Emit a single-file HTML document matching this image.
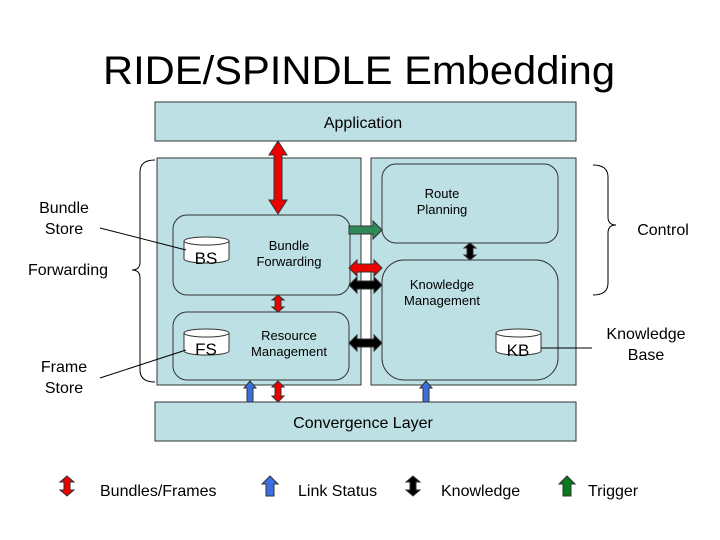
<!DOCTYPE html>
<html><head><style>
body{margin:0;background:#fff;}
svg{display:block;font-family:"Liberation Sans",sans-serif;}
</style></head><body>
<svg width="720" height="540" viewBox="0 0 720 540" xmlns="http://www.w3.org/2000/svg">
<text x="359" y="84" font-size="40" text-anchor="middle" fill="#000" textLength="512" lengthAdjust="spacingAndGlyphs">RIDE/SPINDLE Embedding</text>
<g stroke="#333" stroke-width="1" fill="#bde0e4">
<rect x="155" y="102" width="421" height="39"/>
<rect x="157" y="158" width="204" height="227"/>
<rect x="371" y="158" width="205" height="227"/>
<rect x="155" y="402" width="421" height="39"/>
<rect x="173" y="215" width="177" height="80" rx="14"/>
<rect x="173" y="312" width="176" height="68" rx="14"/>
<rect x="382" y="164" width="176" height="79" rx="14"/>
<rect x="382" y="260" width="176" height="120" rx="22"/>
</g>
<g font-size="16" text-anchor="middle" fill="#000">
<text x="363" y="128">Application</text>
<text x="363" y="428">Convergence Layer</text>
</g>
<g font-size="13" text-anchor="middle" fill="#000">
<text x="442" y="198">Route</text><text x="442" y="214">Planning</text>
<text x="289" y="250">Bundle</text><text x="289" y="266">Forwarding</text>
<text x="289" y="340">Resource</text><text x="289" y="356">Management</text>
<text x="442" y="289">Knowledge</text><text x="442" y="305">Management</text>
</g>
<g stroke="#333" fill="#fff">
<path d="M184 241 v18 a22.5 4 0 0 0 45 0 v-18"/><ellipse cx="206.5" cy="241" rx="22.5" ry="4"/>
<path d="M184 333 v18 a22.5 4 0 0 0 45 0 v-18"/><ellipse cx="206.5" cy="333" rx="22.5" ry="4"/>
<path d="M496 333 v18 a22.5 4 0 0 0 45 0 v-18"/><ellipse cx="518.5" cy="333" rx="22.5" ry="4"/>
</g>
<g font-size="17" text-anchor="middle" fill="#000">
<text x="206" y="264">BS</text><text x="206" y="355">FS</text><text x="518" y="356">KB</text>
</g>
<g stroke="#000" stroke-width="1" fill="none">
<line x1="100" y1="228" x2="186" y2="250"/>
<line x1="100" y1="378" x2="186" y2="350"/>
<line x1="541" y1="348" x2="592" y2="348"/>
<path d="M155 160 q-15 0 -15 12 v90 q0 8 -8 8 q8 0 8 8 v92 q0 12 15 12"/>
<path d="M593 165 q15 0 15 12 v40 q0 8 8 8 q-8 0 -8 8 v50 q0 12 -15 12"/>
</g>
<g font-size="16" text-anchor="middle" fill="#000">
<text x="64" y="213">Bundle</text><text x="64" y="234">Store</text>
<text x="68" y="275">Forwarding</text>
<text x="64" y="372">Frame</text><text x="64" y="393">Store</text>
<text x="663" y="235">Control</text>
<text x="646" y="339">Knowledge</text><text x="646" y="360">Base</text>
</g>
<g stroke="#333" stroke-width="1">
<path fill="#e00" d="M278 141 l-9 14 h5 v45 h-5 l9 14 l9 -14 h-5 v-45 h5z"/>
<path fill="#e00" d="M278 295 l-6 5 h3 v7 h-3 l6 5 l6 -5 h-3 v-7 h3z"/>
<path fill="#e00" d="M278 381 l-6 6 h3 v9 h-3 l6 6 l6 -6 h-3 v-9 h3z"/>
<path fill="#3b6fe0" d="M250 381 l-6 7 h3 v14 h6 v-14 h3z"/>
<path fill="#3b6fe0" d="M426 381 l-6 7 h3 v14 h6 v-14 h3z"/>
<path fill="#000" d="M470 243 l-6 5 h3 v7 h-3 l6 5 l6 -5 h-3 v-7 h3z"/>
<path fill="#2e8b57" d="M349 226 h24 v-5 l9 9 l-9 9 v-5 h-24z"/>
<path fill="#e00" d="M349 268 l8 -8 v4 h17 v-4 l8 8 l-8 8 v-4 h-17 v4z"/>
<path fill="#000" d="M349 285 l8 -8 v4 h17 v-4 l8 8 l-8 8 v-4 h-17 v4z"/>
<path fill="#000" d="M349 343 l8 -8 v4 h17 v-4 l8 8 l-8 8 v-4 h-17 v4z"/>
<path fill="#e00" d="M67 476 l-7 6 h4 v8 h-4 l7 6 l7 -6 h-4 v-8 h4z"/>
<path fill="#3b6fe0" d="M270 476 l-8 8 h4 v12 h8 v-12 h4z"/>
<path fill="#000" d="M413 476 l-7 6 h4 v8 h-4 l7 6 l7 -6 h-4 v-8 h4z"/>
<path fill="#0a7a1e" d="M567 476 l-8 8 h4 v12 h8 v-12 h4z"/>
</g>
<g font-size="16" fill="#000">
<text x="100" y="496">Bundles/Frames</text>
<text x="298" y="496">Link Status</text>
<text x="441" y="496">Knowledge</text>
<text x="588" y="496">Trigger</text>
</g>
</svg>
</body></html>
